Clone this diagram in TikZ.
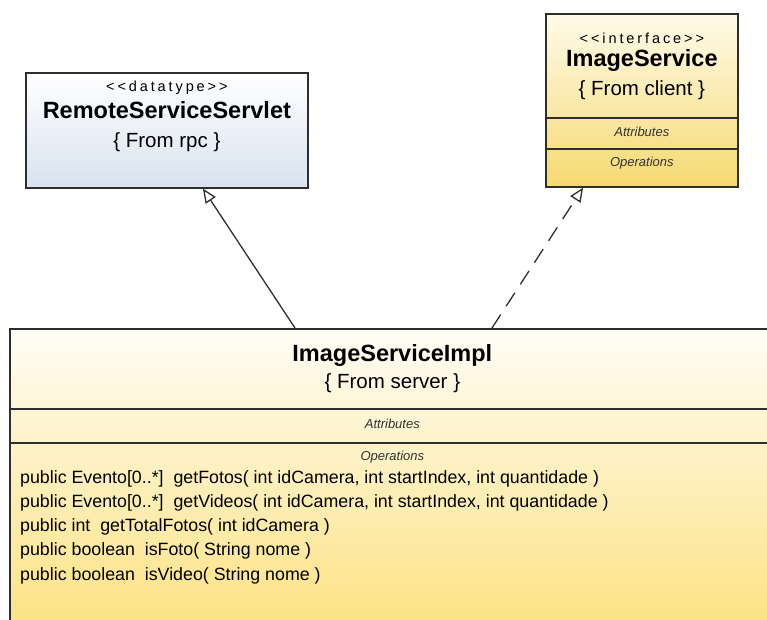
\documentclass[tikz,border=0pt]{standalone}
\usepackage{fontspec}
\setmainfont{Liberation Sans}
\newfontfamily\stereofont[LetterSpace=20]{Liberation Sans}
\newfontfamily\opsfont{Liberation Sans}
\usetikzlibrary{positioning,arrows.meta,calc}

\definecolor{servletblue}{HTML}{D8E2EF}
\definecolor{ifaceyellow}{HTML}{F5D970}
\definecolor{ifacetop}{HTML}{FFFBEA}
\definecolor{impltop}{HTML}{FFFDF6}
\definecolor{implyellow}{HTML}{FCE07A}
\definecolor{umlborder}{HTML}{2E2E2E}

\begin{document}
\begin{tikzpicture}[
  x=1pt, y=-1pt,
  classbox/.style={draw=umlborder, line width=1.7pt, anchor=north west, inner sep=0pt},
  divider/.style={draw=umlborder, line width=1.6pt},
  stereo/.style={font=\stereofont\fontsize{14.5}{16}\selectfont},
  title/.style={font=\fontsize{23.5}{26}\selectfont\bfseries},
  origin/.style={font=\fontsize{20.5}{22}\selectfont},
  section/.style={font=\fontsize{13}{15}\selectfont\itshape, text=black!80},
  oper/.style={font=\opsfont\fontsize{17.8}{24}\selectfont, anchor=base west, inner sep=0pt},
  gen/.style={-{Triangle[open, length=14pt, width=12pt]}, line width=1.3pt, draw=umlborder},
  real/.style={gen, dash pattern=on 16pt off 10pt}
]
\useasboundingbox (0,0) rectangle (767,619);
\clip (0,0) rectangle (767,619);

% class boxes
\node[classbox, minimum width=282pt, minimum height=115pt,
      top color=white, bottom color=servletblue] (servlet) at (25,72) {};
\node[classbox, minimum width=192pt, minimum height=173pt,
      top color=ifacetop, bottom color=ifaceyellow] (service) at (545,13) {};
\node[classbox, minimum width=765pt, minimum height=320pt,
      top color=impltop, bottom color=implyellow] (impl) at (9,328) {};

% RemoteServiceServlet
\node[stereo] (servletstereo) at ($(servlet.north)+(0,16)$) {\textless\textless datatype\textgreater\textgreater};
\node[title] (servletname) at ($(servlet.north)+(0,38)$) {RemoteServiceServlet};
\node[origin] (servletorigin) at ($(servlet.north)+(0,70)$) {\{ From rpc \}};

% ImageService
\node[stereo] (servicestereo) at ($(service.north)+(0,25)$) {\textless\textless interface\textgreater\textgreater};
\node[title] (servicename) at ($(service.north)+(0,47)$) {ImageService};
\node[origin] (serviceorigin) at ($(service.north)+(0,77)$) {\{ From client \}};
\draw[divider] ($(service.north west)+(0,105)$) -- ($(service.north east)+(0,105)$);
\draw[divider] ($(service.north west)+(0,136)$) -- ($(service.north east)+(0,136)$);
\node[section] (serviceattr) at ($(service.north)+(0,119)$) {Attributes};
\node[section] (serviceops) at ($(service.north)+(0,150)$) {Operations};

% ImageServiceImpl
\node[title] (implname) at ($(impl.north)+(0,27)$) {ImageServiceImpl};
\node[origin] (implorigin) at ($(impl.north)+(0,55)$) {\{ From server \}};
\draw[divider] ($(impl.north west)+(0,81)$) -- ($(impl.north east)+(0,81)$);
\draw[divider] ($(impl.north west)+(0,115)$) -- ($(impl.north east)+(0,115)$);
\node[section] (implattr) at ($(impl.north)+(0,96)$) {Attributes};
\node[section] (implops) at ($(impl.north)+(0,129)$) {Operations};

\foreach \sig [count=\i] in {
  {public Evento[0..*]\ \ getFotos( int idCamera, int startIndex, int quantidade )},
  {public Evento[0..*]\ \ getVideos( int idCamera, int startIndex, int quantidade )},
  {public int\ \ getTotalFotos( int idCamera )},
  {public boolean\ \ isFoto( String nome )},
  {public boolean\ \ isVideo( String nome )}}
  \node[oper] (op\i) at ($(impl.north west)+(11,155+24.3*\i-24.3)$) {\sig};

% generalization and realization
\draw[gen] ($(impl.north west)+(286,0)$) -- ($(servlet.south west)+(178,0)$);
\draw[real] ($(impl.north west)+(483,0)$) -- ($(service.south west)+(38,0)$);
\end{tikzpicture}
\end{document}
